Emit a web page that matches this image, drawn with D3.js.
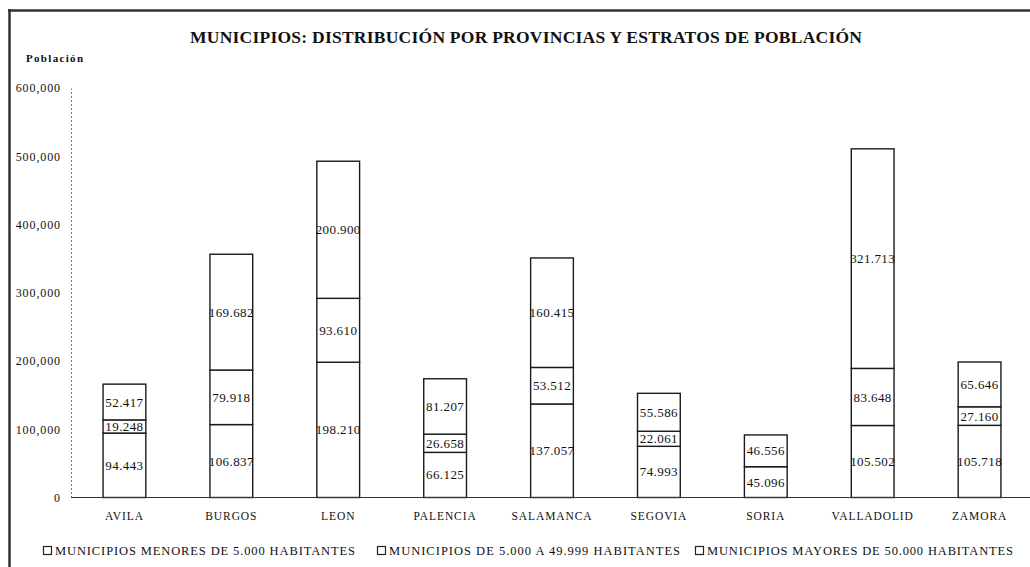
<!DOCTYPE html>
<html>
<head>
<meta charset="utf-8">
<script src="https://cdn.jsdelivr.net/npm/d3@7"></script>
<style>
  html, body { margin: 0; padding: 0; background: #fff; }
  svg { display: block; }
  text { font-family: "Liberation Serif", "Times New Roman", serif; fill: #111; }
</style>
</head>
<body>
<svg id="chart" width="1030" height="567"></svg>
<script>
// ---- Data ----
const provinces = ["AVILA", "BURGOS", "LEON", "PALENCIA", "SALAMANCA", "SEGOVIA", "SORIA", "VALLADOLID", "ZAMORA"];
const menores5000 = [94443, 106837, 198210, 66125, 137057, 74993, 45096, 105502, 105718];
const de5000a49999 = [19248, 79918, 93610, 26658, 53512, 22061, 0, 83648, 27160];
const mayores50000 = [52417, 169682, 200900, 81207, 160415, 55586, 46556, 321713, 65646];
const seriesNames = [
  "MUNICIPIOS MENORES DE 5.000 HABITANTES",
  "MUNICIPIOS DE 5.000 A 49.999 HABITANTES",
  "MUNICIPIOS MAYORES DE 50.000 HABITANTES"
];
const yTicks = [0, 100000, 200000, 300000, 400000, 500000, 600000];
const titleText = "MUNICIPIOS: DISTRIBUCIÓN POR PROVINCIAS Y ESTRATOS DE POBLACIÓN";
const yTitle = "Población";

// ---- Build table ----
const keys = ["s0", "s1", "s2"];
const table = provinces.map((p, i) => ({ prov: p, s0: menores5000[i], s1: de5000a49999[i], s2: mayores50000[i] }));
const stacked = d3.stack().keys(keys)(table);

const svg = d3.select("#chart");

// frame
svg.append("line").attr("x1", 8).attr("x2", 1030).attr("y1", 10.5).attr("y2", 10.5)
  .attr("stroke", "#333").attr("stroke-width", 2.5);
svg.append("line").attr("x1", 9.5).attr("x2", 9.5).attr("y1", 9).attr("y2", 567)
  .attr("stroke", "#333").attr("stroke-width", 2.5);

// scales
const x = d3.scaleBand().domain(provinces).range([71, 1033]).paddingInner(0.6).paddingOuter(0.3);
const y = d3.scaleLinear().domain([0, 600000]).range([497.5, 88]);

// title
svg.append("text").attr("x", 526).attr("y", 43).attr("text-anchor", "middle")
  .attr("font-size", 17.5).attr("font-weight", "bold")
  .attr("textLength", 672).attr("lengthAdjust", "spacing")
  .text(titleText);

svg.append("text").attr("x", 26).attr("y", 62)
  .attr("font-size", 11).attr("font-weight", "bold")
  .attr("textLength", 57).attr("lengthAdjust", "spacing")
  .text(yTitle);

// y axis
const fmtTick = d => d === 0 ? "0" : d3.format(",")(d);
const yAxis = d3.axisLeft(y).tickValues(yTicks).tickSize(0).tickPadding(10).tickFormat(fmtTick);
const gy = svg.append("g").attr("transform", "translate(71,0)").call(yAxis);
gy.select(".domain").attr("stroke", "#555").attr("stroke-dasharray", "2,2").attr("stroke-width", 0.8);
gy.selectAll(".tick text")
  .attr("font-size", 12).attr("letter-spacing", "0.9px").attr("fill", "#111");

// bars
const fmtVal = d3.formatLocale({ decimal: ",", thousands: ".", grouping: [3], currency: ["", ""] }).format(",");
const layers = svg.append("g").selectAll("g").data(stacked).join("g");
layers.selectAll("rect").data(d => d.map(v => ({ v, prov: v.data.prov })).filter(d => d.v[1] - d.v[0] > 0))
  .join("rect")
  .attr("x", d => x(d.prov))
  .attr("y", d => y(d.v[1]))
  .attr("width", x.bandwidth())
  .attr("height", d => y(d.v[0]) - y(d.v[1]))
  .attr("fill", "#fff")
  .attr("stroke", "#1a1a1a")
  .attr("stroke-width", 1.4);

layers.selectAll("text").data(d => d.map(v => ({ v, prov: v.data.prov })).filter(d => d.v[1] - d.v[0] > 0))
  .join("text")
  .attr("x", d => x(d.prov) + x.bandwidth() / 2)
  .attr("y", d => (y(d.v[0]) + y(d.v[1])) / 2)
  .attr("dy", "0.35em")
  .attr("text-anchor", "middle")
  .attr("font-size", 13).attr("letter-spacing", "0.4px")
  .text(d => fmtVal(d.v[1] - d.v[0]));

// baseline
svg.append("line").attr("x1", 71).attr("x2", 1030).attr("y1", y(0)).attr("y2", y(0))
  .attr("stroke", "#333").attr("stroke-width", 1);

// x axis labels
const xAxis = d3.axisBottom(x).tickSize(0).tickPadding(14);
const gx = svg.append("g").attr("transform", `translate(0,${y(0)})`).call(xAxis);
gx.select(".domain").remove();
gx.selectAll(".tick text")
  .attr("font-size", 11.5).attr("letter-spacing", "0.9px").attr("fill", "#111");

// legend
const legendX = [43, 377, 695];
const legendW = [300, 291, 306];
const lg = svg.append("g").selectAll("g").data(seriesNames).join("g")
  .attr("transform", (d, i) => `translate(${legendX[i]},551)`);
lg.append("rect").attr("x", 0.5).attr("y", -4.5).attr("width", 8).attr("height", 8)
  .attr("fill", "#fff").attr("stroke", "#222").attr("stroke-width", 1.2);
lg.append("text").attr("x", 12).attr("y", 0).attr("dy", "0.35em")
  .attr("font-size", 12.5)
  .attr("textLength", (d, i) => legendW[i]).attr("lengthAdjust", "spacing")
  .text(d => d);
</script>
</body>
</html>
